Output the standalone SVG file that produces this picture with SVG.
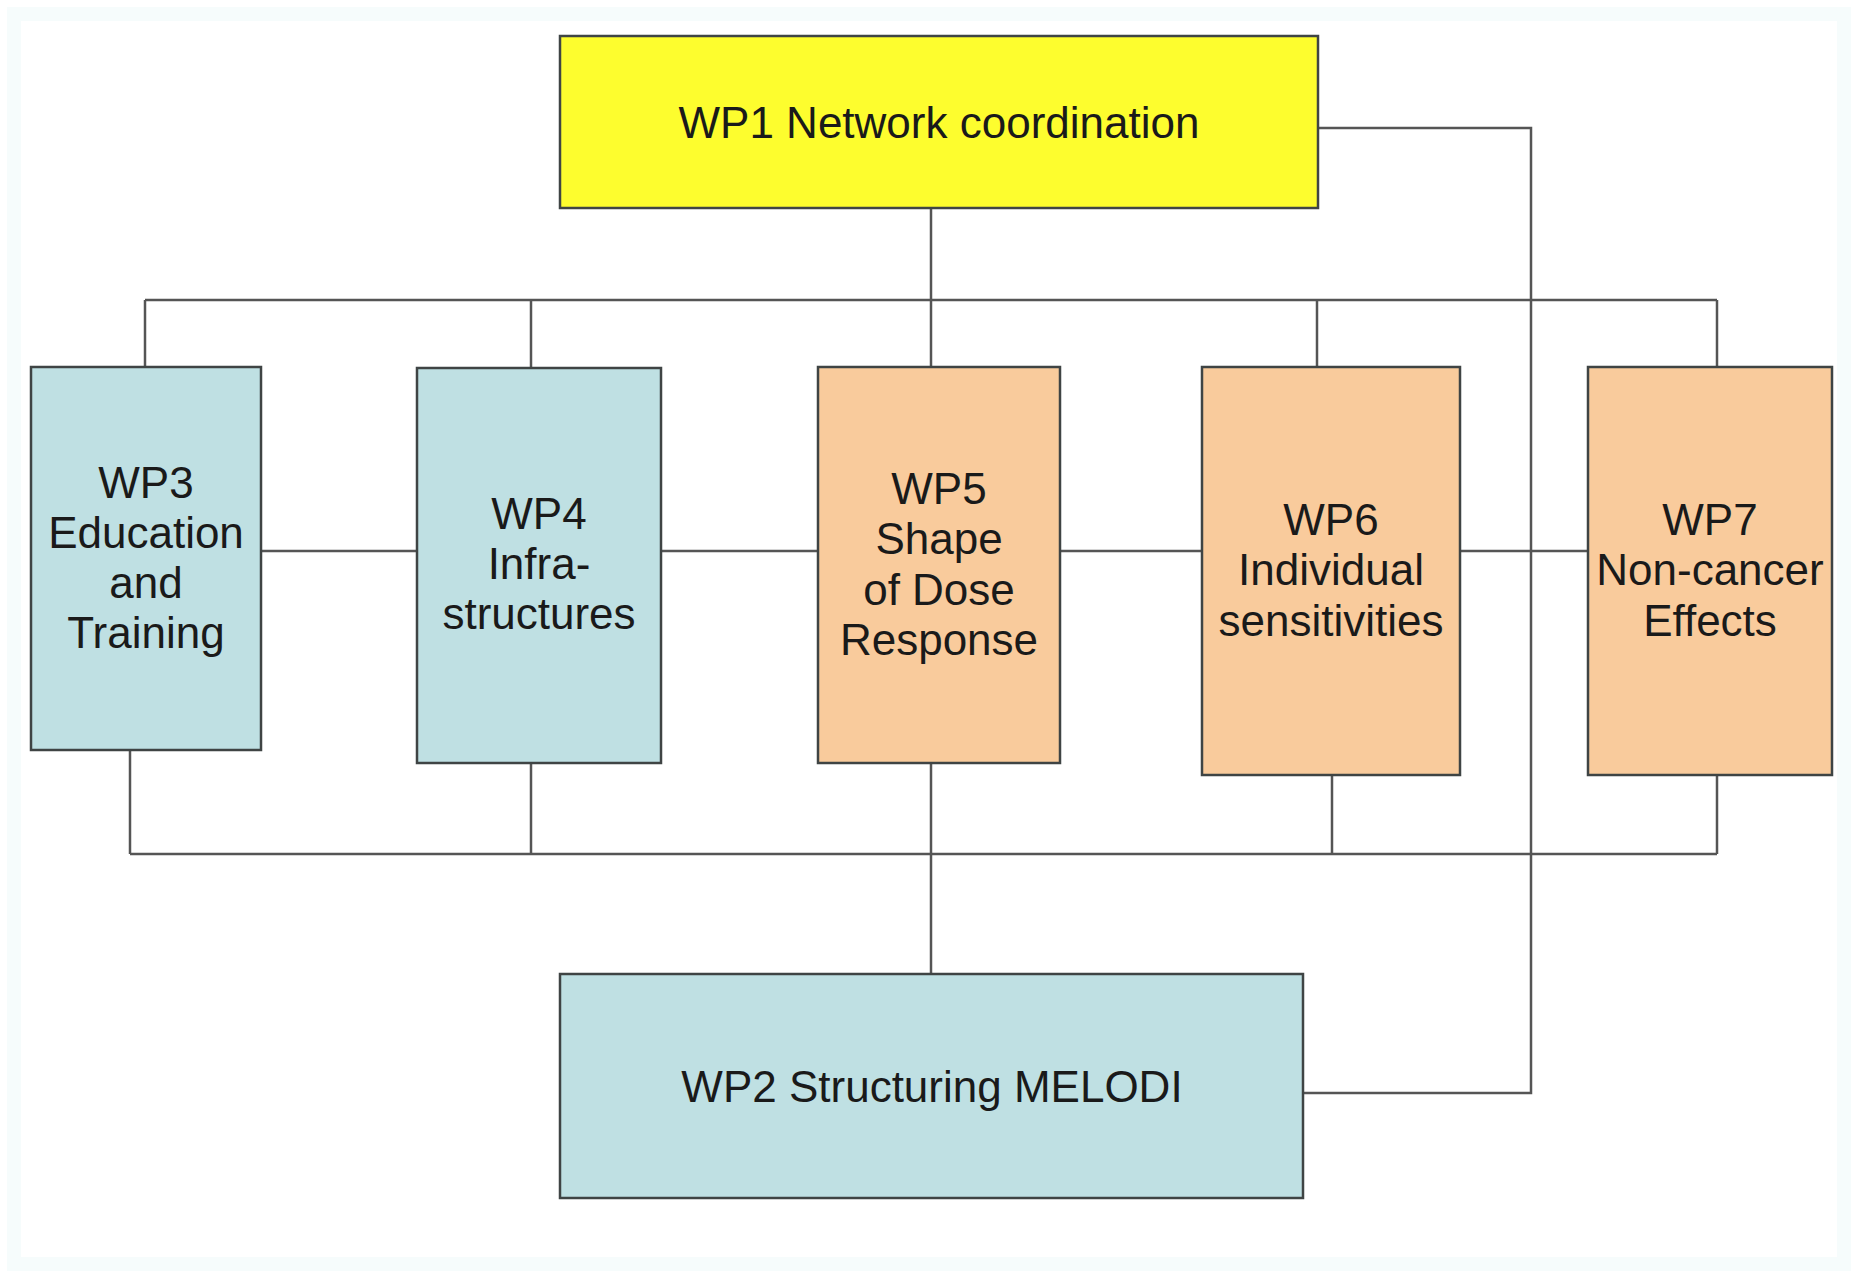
<svg xmlns="http://www.w3.org/2000/svg" width="1860" height="1272" viewBox="0 0 1860 1272">
<style>
.box{stroke:#3f4444;stroke-width:2.5}
.y{fill:#fdfd2e}
.b{fill:#bfe0e3}
.o{fill:#f9cb9c}
.t{font-family:"Liberation Sans",Arial,sans-serif;font-size:44px;fill:#1a1a1a;text-anchor:middle}
.c{fill:none;stroke:#555;stroke-width:2.5}
</style>
<rect x="0" y="0" width="1860" height="1272" fill="#ffffff"/>
<rect x="14" y="14" width="1830" height="1250" fill="none" stroke="#f6fcfc" stroke-width="14"/>
<g id="connectors">
<path class="c" d="M931 208 V367"/>
<path class="c" d="M145 300 H1717"/>
<path class="c" d="M145 300 V367"/>
<path class="c" d="M531 300 V367"/>
<path class="c" d="M1317 300 V367"/>
<path class="c" d="M1717 300 V367"/>
<path class="c" d="M1318 128 H1531 V1093 H1303"/>
<path class="c" d="M261 551 H417"/>
<path class="c" d="M661 551 H818"/>
<path class="c" d="M1060 551 H1202"/>
<path class="c" d="M1460 551 H1588"/>
<path class="c" d="M130 854 H1717"/>
<path class="c" d="M130 750 V854"/>
<path class="c" d="M531 763 V854"/>
<path class="c" d="M931 763 V974"/>
<path class="c" d="M1332 775 V854"/>
<path class="c" d="M1717 775 V854"/>
</g>
<g id="wp1">
<rect class="box y" x="560" y="36" width="758" height="172"/>
<text class="t" x="939" y="138">WP1 Network coordination</text>
</g>
<g id="wp3">
<rect class="box b" x="31" y="367" width="230" height="383"/>
<text class="t" x="146" y="498">WP3</text>
<text class="t" x="146" y="548">Education</text>
<text class="t" x="146" y="598">and</text>
<text class="t" x="146" y="648">Training</text>
</g>
<g id="wp4">
<rect class="box b" x="417" y="368" width="244" height="395"/>
<text class="t" x="539" y="529">WP4</text>
<text class="t" x="539" y="579">Infra-</text>
<text class="t" x="539" y="629">structures</text>
</g>
<g id="wp5">
<rect class="box o" x="818" y="367" width="242" height="396"/>
<text class="t" x="939" y="504">WP5</text>
<text class="t" x="939" y="554">Shape</text>
<text class="t" x="939" y="605">of Dose</text>
<text class="t" x="939" y="655">Response</text>
</g>
<g id="wp6">
<rect class="box o" x="1202" y="367" width="258" height="408"/>
<text class="t" x="1331" y="535">WP6</text>
<text class="t" x="1331" y="585">Individual</text>
<text class="t" x="1331" y="636">sensitivities</text>
</g>
<g id="wp7">
<rect class="box o" x="1588" y="367" width="244" height="408"/>
<text class="t" x="1710" y="535">WP7</text>
<text class="t" x="1710" y="585">Non-cancer</text>
<text class="t" x="1710" y="636">Effects</text>
</g>
<g id="wp2">
<rect class="box b" x="560" y="974" width="743" height="224"/>
<text class="t" x="932" y="1102">WP2 Structuring MELODI</text>
</g>
</svg>
